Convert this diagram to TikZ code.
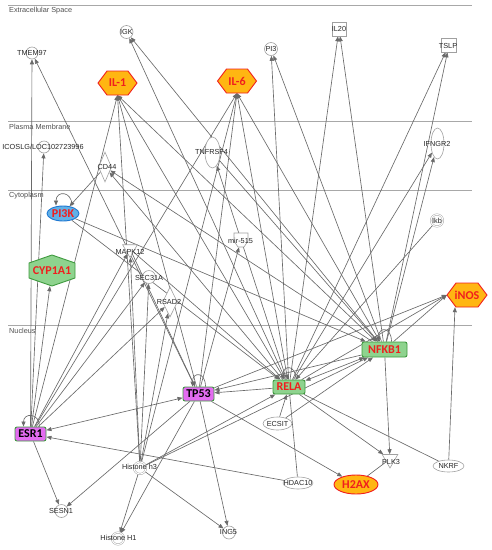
\documentclass[tikz,border=0pt]{standalone}
\usepackage{fontspec}
\setmainfont{Liberation Sans}
\newfontfamily\calfont{Carlito}
\usetikzlibrary{arrows.meta,shapes.geometric,calc}
\definecolor{lk}{HTML}{6A6A6A}
\definecolor{ng}{HTML}{A0A0A0}
\definecolor{cl}{HTML}{A8A8A8}
\definecolor{orf}{HTML}{FFB612}
\definecolor{rd}{HTML}{F01E1E}
\definecolor{grf}{HTML}{8ED38E}
\definecolor{grd}{HTML}{3E9A3E}
\definecolor{mgf}{HTML}{E36CF0}
\definecolor{blf}{HTML}{62B0E6}
\definecolor{bld}{HTML}{1E78D2}
\definecolor{txt}{HTML}{262626}
\definecolor{ctx}{HTML}{505050}
\pgfdeclarelayer{back}
\pgfsetlayers{back,main}
\newcommand{\hexH}[6]{\path[#6] ({#1-#3},#2) -- ({#1-#3+#5},{#2-#4}) -- ({#1+#3-#5},{#2-#4}) -- ({#1+#3},#2) -- ({#1+#3-#5},{#2+#4}) -- ({#1-#3+#5},{#2+#4}) -- cycle;}
\tikzset{
 lbl/.style={font=\fontsize{7.3}{8}\selectfont, text=txt, inner sep=0pt},
 clbl/.style={font=\fontsize{7.3}{8}\selectfont, text=ctx, anchor=west, inner sep=0pt},
 cline/.style={draw=cl, line width=0.8pt},
 gcirc/.style={circle, draw=ng, fill=white, line width=0.6pt, minimum size=13pt, inner sep=0pt},
 gdbl/.style={circle, draw=ng, fill=white, line width=0.45pt, double=white, double distance=1pt, minimum size=12pt, inner sep=0pt},
 gell/.style={ellipse, draw=ng, fill=white, line width=0.6pt, inner sep=0pt},
 gdiam/.style={diamond, draw=ng, fill=white, line width=0.6pt, inner sep=0pt, minimum width=13pt, minimum height=30pt},
 gsq/.style={rectangle, draw=ng, fill=white, line width=0.6pt, inner sep=0pt, minimum size=14pt},
 gtri/.style={regular polygon, regular polygon sides=3, shape border rotate=180, draw=ng, fill=white, line width=0.6pt, inner sep=0pt, minimum size=17pt},
 bigf/.style={font=\calfont\bfseries\fontsize{12}{12}\selectfont},
 hexbox/.style={rectangle, inner sep=0pt, draw=none, bigf, text=rd},
 orhex/.style={fill=orf, draw=rd, line width=0.9pt},
 grhex/.style={fill=grf, draw=grd, line width=0.9pt},
 grbox/.style={rectangle, rounded corners=2pt, fill=grf, draw=grd, line width=0.9pt, inner sep=0pt, bigf, text=rd},
 mgbox/.style={rectangle, rounded corners=2pt, fill=mgf, draw=grd, line width=0.9pt, inner sep=0pt, bigf, text=black},
 ln/.style={draw=lk, line width=0.65pt, -{Triangle[length=5pt,width=4pt]}},
 lnb/.style={draw=lk, line width=0.65pt, {Triangle[length=5pt,width=4pt]}-{Triangle[length=5pt,width=4pt]}},
 lnp/.style={draw=lk, line width=0.65pt},
}
\begin{document}
\begin{tikzpicture}[x=1pt,y=-1pt]
\useasboundingbox (0,0) rectangle (491,550);
% compartments
\begin{pgfonlayer}{back}
\draw[cline] (8,5) -- (472,5);
\draw[cline] (8,121) -- (472,121);
\draw[cline] (8,190.5) -- (472,190.5);
\draw[cline] (8,325) -- (472,325);
\end{pgfonlayer}
\node[clbl] (cExt) at (9,11) {Extracellular Space};
\node[clbl] (cPM) at (9,127) {Plasma Membrane};
\node[clbl] (cCyt) at (9,196) {Cytoplasm};
\node[clbl] (cNuc) at (9,331) {Nucleus};
% small nodes
\node[gcirc] (igk) at (126.5,32) {}; \node[lbl] (igkL) at (igk) {IGK};
\node[gcirc, minimum size=12pt] (tmem) at (32,53) {}; \node[lbl] (tmemL) at (tmem) {TMEM97};
\node[gcirc] (pit) at (271,49) {}; \node[lbl] (pitL) at (pit) {PI3};
\node[gsq] (iltw) at (339,29) {}; \node[lbl] (iltwL) at (iltw) {IL20};
\node[gsq, minimum width=15pt] (tslp) at (449,45) {}; \node[lbl] (tslpL) at (448,46) {TSLP};
\node[gcirc, minimum size=12pt] (icos) at (44,147) {}; \node[lbl] (icosL) at (43,147) {ICOSLG/LOC102723996};
\node[gdiam] (cd) at (105,167) {}; \node[lbl] (cdL) at (107,167) {CD44};
\node[gell, minimum width=15pt, minimum height=31pt] (tnf) at (212.5,152.5) {}; \node[lbl] (tnfL) at (211.5,152) {TNFRSF4};
\node[gell, minimum width=13pt, minimum height=31pt] (ifn) at (437.5,143.5) {}; \node[lbl] (ifnL) at (437,144) {IFNGR2};
\node[gdbl] (ikb) at (437,220.5) {}; \node[lbl] (ikbL) at (ikb) {Ikb};
\node[gtri] (mapk) at (130,249) {}; \node[lbl] (mapkL) at (130,252) {MAPK12};
\path[draw=ng, fill=white, line width=0.6pt] (234,233) -- (248,233) -- (248,241) -- (244,247) -- (238,247) -- (234,241) -- cycle;
\node[rectangle, minimum size=14pt, inner sep=0pt] (mir) at (241,240) {}; \node[lbl] (mirL) at (240.5,241) {mir-515};
\node[gcirc] (sec) at (149,277) {}; \node[lbl] (secL) at (149,278) {SEC31A};
\node[gdiam, minimum width=15pt] (rsad) at (170,302) {}; \node[lbl] (rsadL) at (169,302) {RSAD2};
\node[gell, minimum width=29pt, minimum height=13pt] (ecsit) at (277.5,423.5) {}; \node[lbl] (ecsitL) at (ecsit) {ECSIT};
\node[gdbl] (hh3) at (140,468) {}; \node[lbl] (hh3L) at (139.5,467) {Histone h3};
\node[gcirc] (sesn) at (61.5,511) {}; \node[lbl] (sesnL) at (61,511) {SESN1};
\node[gdbl] (hh1) at (118,538.5) {}; \node[lbl] (hh1L) at (118.5,538) {Histone H1};
\node[gcirc] (ing) at (229,532.5) {}; \node[lbl] (ingL) at (228.5,532) {ING5};
\node[gell, minimum width=30pt, minimum height=12pt] (hdac) at (298,483) {}; \node[lbl] (hdacL) at (hdac) {HDAC10};
\node[gtri, minimum size=18pt] (plk) at (390,459) {}; \node[lbl] (plkL) at (391,462) {PLK3};
\node[gell, minimum width=31pt, minimum height=12pt] (nkrf) at (448.5,466) {}; \node[lbl] (nkrfL) at (nkrf) {NKRF};
% highlighted nodes
\hexH{117.5}{83}{19.5}{12}{9}{orhex}
\node[hexbox, minimum width=39pt, minimum height=24pt] (il1) at (117.5,83) {IL-1};
\hexH{237}{81}{19.5}{12}{9}{orhex}
\node[hexbox, minimum width=39pt, minimum height=24pt] (il6) at (237,81) {IL-6};
\hexH{467}{295}{20}{12}{9}{orhex}
\node[hexbox, minimum width=40pt, minimum height=24pt] (inos) at (467,295) {iNOS};
\path[grhex] (52,255) -- (75,263) -- (75,278) -- (52,286) -- (29,278) -- (29,263) -- cycle;
\node[hexbox, minimum width=46pt, minimum height=31pt] (cyp) at (52,270.5) {CYP1A1};
\node[ellipse, fill=blf, draw=bld, line width=0.9pt, minimum width=32pt, minimum height=15pt, inner sep=0pt, bigf, text=rd] (pik) at (63,213.5) {PI3K};
\node[grbox, minimum width=45pt, minimum height=15pt] (nfkb) at (384.5,349.5) {NFKB1};
\node[grbox, minimum width=32pt, minimum height=14pt] (rela) at (289,387) {RELA};
\node[mgbox, minimum width=31pt, minimum height=14pt] (tp53) at (198.5,394) {TP53};
\node[mgbox, minimum width=31pt, minimum height=14pt] (esr) at (30.5,434) {ESR1};
\node[ellipse, fill=orf, draw=rd, line width=0.9pt, minimum width=44pt, minimum height=19pt, inner sep=0pt, bigf, text=rd] (htwo) at (356,484.5) {H2AX};
% connectors
\begin{pgfonlayer}{back}
\draw[ln] (esr) -- (tmem);
\draw[ln] (tp53) -- (tmem);
\draw[ln] (rela) -- (igk);
\draw[ln] (nfkb) -- (igk);
\draw[ln] (esr) -- (il1.south);
\draw[ln] (hh3) -- (il1.south);
\draw[ln] (tp53) -- (il1.south);
\draw[lnb] (rela) -- (il1.south);
\draw[lnb] (nfkb) -- (il1.south);
\draw[ln] (esr) -- (il6.south);
\draw[ln] (hh3) -- (il6.south);
\draw[ln] (tp53) -- (il6.south);
\draw[lnb] (rela) -- (il6.south);
\draw[lnb] (nfkb) -- (il6.south);
\draw[ln] (rela) -- (pit);
\draw[ln] (nfkb) -- (pit);
\draw[ln] (rela) -- (iltw);
\draw[ln] (nfkb) -- (iltw);
\draw[ln] (rela) -- (tslp);
\draw[ln] (nfkb) -- (tslp);
\draw[ln] (rela) -- (ifn);
\draw[ln] (nfkb) -- (ifn);
\draw[ln] (ikb) -- (rela);
\draw[ln] (rela) -- (tnf);
\draw[ln] (tnf) -- (nfkb);
\draw[ln] (esr) -- (icos);
\draw[ln] (rela) -- (cd);
\draw[ln] (nfkb) -- (cd);
\draw[ln] (cd) -- (pik);
\draw[ln] (esr) -- (mapk);
\draw[ln] (hh3) -- (mapk);
\draw[ln] (esr) -- (sec);
\draw[ln] (hh3) -- (sec);
\draw[ln] (esr) -- (rsad);
\draw[ln] (hh3) -- (rsad);
\draw[ln] (tp53) -- (mir);
\draw[ln] (esr) -- (cyp);
\draw[ln] (mapk) -- (tp53);
\draw[lnb] (esr) -- (tp53);
\draw[ln] (hdac) -- (esr);
\draw[ln] (esr) -- (sesn);
\draw[ln] (tp53) -- (sesn);
\draw[ln] (hh3) -- (ing);
\draw[ln] (tp53) -- (ing);
\draw[ln] (hh3) -- (hh1);
\draw[ln] (tp53) -- (hh1);
\draw[ln] (hh3) -- (rela);
\draw[ln] (hh3) -- (nfkb);
\draw[ln] (tp53) -- (htwo);
\draw[ln] (rela) -- (plk);
\draw[ln] (nfkb) -- (plk);
\draw[lnp] (htwo) -- (plk);
\draw[lnp] (rela) -- (nkrf);
\draw[lnp] (rela) -- (hdac);
\draw[ln] (ecsit) -- (rela);
\draw[ln] (ecsit) -- (nfkb);
\draw[ln] (nkrf) -- ([xshift=-12pt]inos.south);
\draw[ln] (rela) -- (inos.west);
\draw[ln] (nfkb) -- (inos.west);
\draw[ln] (tp53) -- (inos.west);
\draw[ln] (rela) -- (tp53);
\draw[ln] (nfkb) -- (tp53);
\draw[lnb] (rela) -- (nfkb);
\draw[ln] (pik) -- (rela);
\draw[ln] (pik) -- (nfkb);
\draw[ln] (mapk) -- (rela);
% self loops
\draw[ln] ([xshift=7pt]tp53.north) .. controls +(0,-15) and +(0,-15) .. ([xshift=-6pt]tp53.north);
\draw[ln] ([xshift=9pt]esr.north) .. controls +(0,-14) and +(0,-14) .. ([xshift=-7pt]esr.north);
\draw[ln] ([xshift=7pt]rela.north) .. controls +(0,-15) and +(0,-15) .. ([xshift=-6pt]rela.north);
\draw[ln] ([xshift=7pt]nfkb.north) .. controls +(0,-15) and +(0,-15) .. ([xshift=-6pt]nfkb.north);
\draw[ln] ([xshift=9pt]pik.north) .. controls +(0,-15) and +(0,-15) .. ([xshift=-7pt]pik.north);
\end{pgfonlayer}
\end{tikzpicture}
\end{document}
